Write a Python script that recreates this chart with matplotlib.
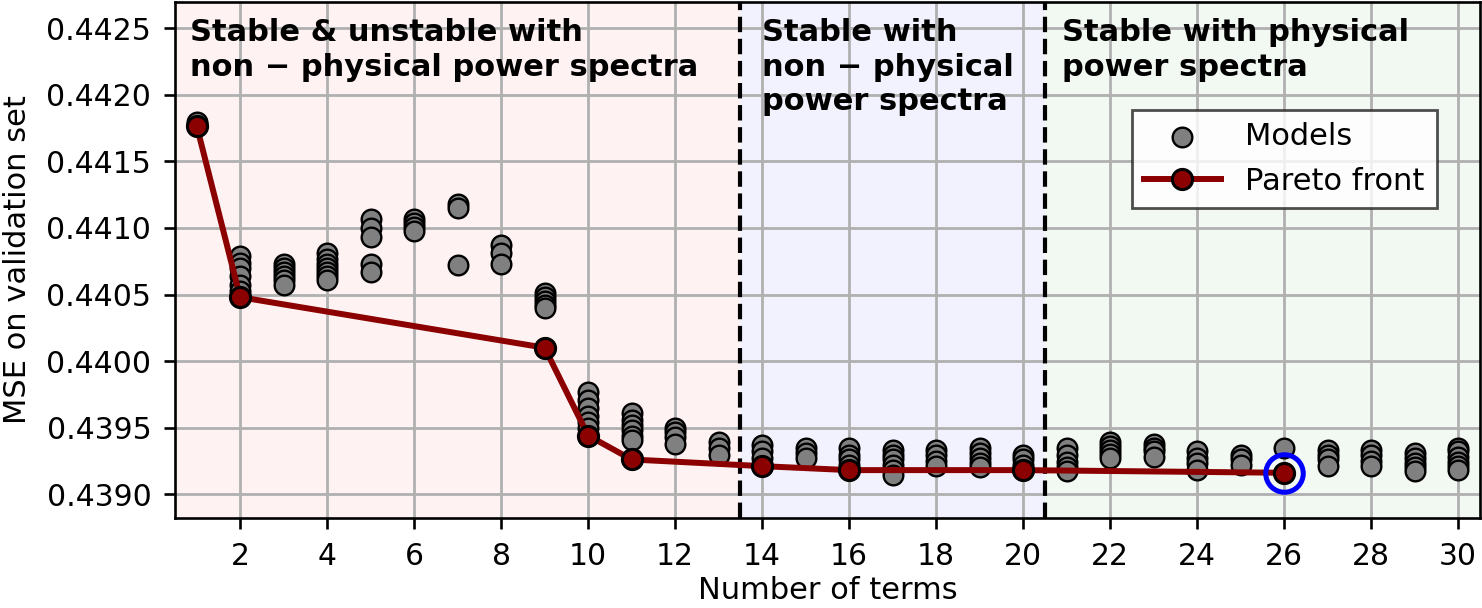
import matplotlib
matplotlib.use("Agg")
import matplotlib.pyplot as plt
import numpy as np

# MSE of every fitted model, grouped by number of terms
models = {
    1: [0.44180, 0.44177],
    2: [0.44079, 0.44074, 0.44070, 0.44064, 0.44057, 0.44053, 0.44048],
    3: [0.44073, 0.44070, 0.44067, 0.44064, 0.44061, 0.44057],
    4: [0.44081, 0.44077, 0.44073, 0.44070, 0.44067, 0.44064, 0.44061],
    5: [0.44107, 0.44100, 0.44093, 0.44073, 0.44067],
    6: [0.44107, 0.44104, 0.44101, 0.44098],
    7: [0.44118, 0.44115, 0.44072],
    8: [0.44087, 0.44081, 0.44073],
    9: [0.44051, 0.44048, 0.44045, 0.44042, 0.44040, 0.44010],
    10: [0.43977, 0.43971, 0.43965, 0.43959, 0.43954, 0.43950, 0.43944],
    11: [0.43961, 0.43956, 0.43952, 0.43948, 0.43944, 0.43941, 0.43926],
    12: [0.43950, 0.43947, 0.43943, 0.43938],
    13: [0.43939, 0.43935, 0.43929],
    14: [0.43937, 0.43932, 0.43927, 0.43921],
    15: [0.43935, 0.43931, 0.43927],
    16: [0.43935, 0.43929, 0.43926, 0.43922, 0.43918],
    17: [0.43933, 0.43929, 0.43926, 0.43922, 0.43918, 0.43914],
    18: [0.43933, 0.43929, 0.43925, 0.43921],
    19: [0.43935, 0.43931, 0.43927, 0.43923, 0.43920],
    20: [0.43929, 0.43926, 0.43922, 0.43918],
    21: [0.43935, 0.43929, 0.43924, 0.43920, 0.43917],
    22: [0.43939, 0.43936, 0.43933, 0.43930, 0.43927],
    23: [0.43938, 0.43935, 0.43932, 0.43928],
    24: [0.43932, 0.43927, 0.43923, 0.43918],
    25: [0.43929, 0.43926, 0.43922],
    26: [0.43935, 0.43916],
    27: [0.43933, 0.43929, 0.43926, 0.43921],
    28: [0.43933, 0.43929, 0.43925, 0.43921],
    29: [0.43931, 0.43927, 0.43923, 0.43920, 0.43917],
    30: [0.43935, 0.43932, 0.43928, 0.43924, 0.43921, 0.43918],
}

pareto_terms = [1, 2, 9, 10, 11, 14, 16, 20, 26]
pareto_mse = [0.44177, 0.44048, 0.44010, 0.43944, 0.43926, 0.43921, 0.43918, 0.43918, 0.43916]

selected_term = 26
selected_mse = 0.43916

region_bounds = [0.5, 13.5, 20.5, 30.5]
region_colors = ["red", "blue", "green"]
region_labels = [
    "Stable & unstable with\nnon \u2212 physical power spectra",
    "Stable with\nnon \u2212 physical\npower spectra",
    "Stable with physical\npower spectra",
]
label_x = [0.85, 14.0, 20.9]

FS = 22

fig = plt.figure(figsize=(14.82, 6.08), dpi=100)
ax = fig.add_axes([0.118, 0.148, 0.8805, 0.849])

for i, c in enumerate(region_colors):
    ax.axvspan(region_bounds[i], region_bounds[i + 1], color=c, alpha=0.05, lw=0, zorder=0)
for b in region_bounds[1:-1]:
    ax.axvline(b, color="black", lw=3.0, ls="--", zorder=3)

xs = np.concatenate([[k] * len(v) for k, v in models.items()])
ys = np.concatenate([v for v in models.values()])
ax.scatter(xs, ys, s=200, color="gray", edgecolor="black", lw=1.7, zorder=4, label="Models")

ax.plot(pareto_terms, pareto_mse, color="darkred", lw=4.3, marker="o", ms=14.5,
        mfc="darkred", mec="black", mew=2.2, zorder=5, label="Pareto front")

ax.plot([selected_term], [selected_mse], marker="o", ms=27, mfc="none", mec="blue",
        mew=3.6, ls="none", zorder=6)

for xt, txt in zip(label_x, region_labels):
    ax.text(xt, 0.44258, txt, fontsize=FS, fontweight="bold", va="top", ha="left",
            linespacing=1.25, zorder=7)

ax.set_xlim(0.5, 30.5)
ax.set_ylim(0.43882, 0.44270)
ax.set_xticks(np.arange(2, 31, 2))
ax.set_yticks(np.arange(0.4390, 0.44251, 0.0005))
ax.yaxis.set_major_formatter(matplotlib.ticker.FormatStrFormatter("%.4f"))
ax.tick_params(labelsize=21.5, width=1.9, length=8, pad=9)
ax.grid(True, color="#b0b0b0", lw=2.0, zorder=1)
ax.set_axisbelow(True)
for s in ax.spines.values():
    s.set_linewidth(1.9)

ax.set_xlabel("Number of terms", fontsize=FS, labelpad=4)
ax.set_ylabel("MSE on validation set", fontsize=FS, labelpad=10)

leg = ax.legend(loc="upper right", bbox_to_anchor=(0.967, 0.79), borderaxespad=0,
                fontsize=FS, handlelength=2.5, fancybox=False, framealpha=0.8,
                edgecolor="#222222")
leg.get_frame().set_linewidth(2)

fig.savefig("out.png", dpi=100)
